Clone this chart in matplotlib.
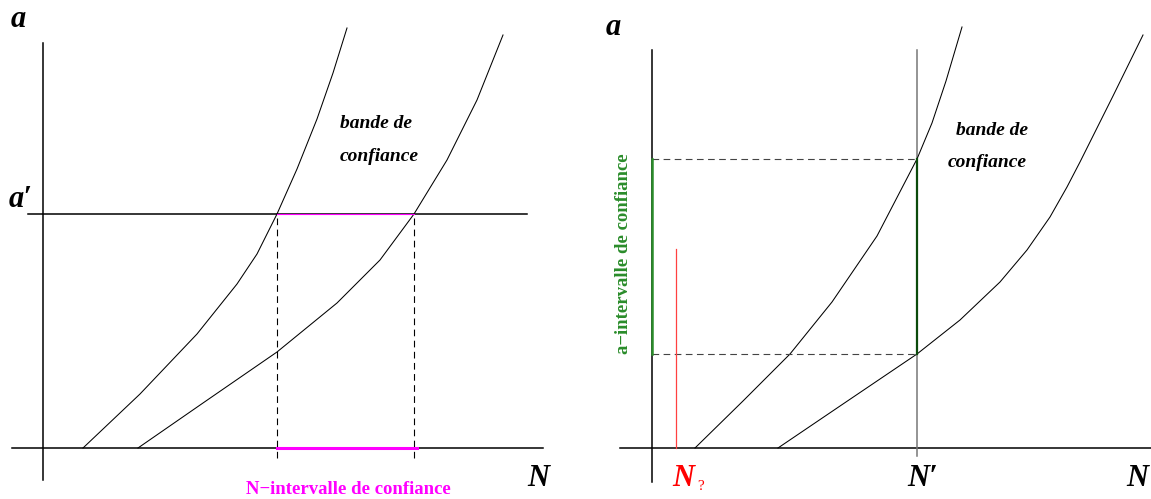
import matplotlib.pyplot as plt

# bande de confiance : deux courbes a(N), coordonnees relatives a l'origine des axes
N_bas_g = [40, 97, 154, 194, 214, 234, 254, 274, 290, 304]
a_bas_g = [0, 54, 114, 164, 194, 234, 279, 329, 375, 420]
N_haut_g = [95, 160, 234, 294, 337, 371, 404, 434, 460]
a_haut_g = [0, 45, 96, 145, 188, 234, 288, 348, 413]

N_bas_d = [43, 91, 138, 180, 225, 265, 280, 294, 310]
a_bas_d = [0, 47, 94, 146, 212, 289, 325, 367, 421]
N_haut_d = [126, 191, 265, 308, 348, 375, 398, 415, 428, 461, 491]
a_haut_d = [0, 44, 94, 128, 166, 198, 231, 261, 286, 352, 413]

a_prime = 234          # a' mesure
N_inter = [234, 371]   # N-intervalle de confiance
N_prime = 265          # N' fixe
a_inter = [94, 289]    # a-intervalle de confiance
N_q = 24               # N ?
a_q = 199

serif = ['Liberation Serif', 'DejaVu Serif']

fig = plt.figure(figsize=(11.51, 4.99), dpi=100)
ax1 = fig.add_axes([0, 0, 575 / 1151, 1])
ax2 = fig.add_axes([575 / 1151, 0, 576 / 1151, 1])
ax1.set_xlim(-43, 532)
ax2.set_xlim(-77, 499)
for ax in (ax1, ax2):
    ax.set_ylim(-51, 448)
    ax.axis('off')

lw_axe = 1.1
lw_c = 0.75
tiret = (6, 4)
grand = dict(family=serif, style='italic', weight='bold', fontsize=22, ha='center', va='center')
bande = dict(family=serif, style='italic', weight='bold', fontsize=14, ha='center', va='center')

# ---- gauche
ax1.plot([0, 0], [-32, 405], color='k', lw=lw_axe)
ax1.plot([-31, 500], [0, 0], color='k', lw=lw_axe)
ax1.plot([-15, 484], [a_prime, a_prime], color='k', lw=lw_axe)
ax1.plot(N_bas_g, a_bas_g, color='k', lw=lw_c)
ax1.plot(N_haut_g, a_haut_g, color='k', lw=lw_c)
for n in N_inter:
    ax1.plot([n, n], [-10, a_prime], color='k', lw=0.8, dashes=tiret)
ax1.plot(N_inter, [a_prime, a_prime], color='magenta', lw=0.8)
ax1.plot([N_inter[0], N_inter[1] + 3], [0, 0], color='magenta', lw=2.2)

ax1.text(-25, 429, 'a', **grand)
ax1.text(-22, 249, 'a′', **grand)
ax1.text(495, -30, 'N', **grand)
ax1.text(333, 325, 'bande de', **bande)
ax1.text(336, 292, 'confiance', **bande)
ax1.text(305, -41, 'N−intervalle de confiance', family=serif, weight='bold', fontsize=13.5,
         color='magenta', ha='center', va='center')

# ---- droite
ax2.plot([0, 0], [-34, 398], color='k', lw=lw_axe)
ax2.plot([-32, 499], [0, 0], color='k', lw=lw_axe)
ax2.plot([N_prime, N_prime], [-8, 398], color='#777777', lw=lw_axe)
ax2.plot(N_bas_d, a_bas_d, color='k', lw=lw_c)
ax2.plot(N_haut_d, a_haut_d, color='k', lw=lw_c)
for a in a_inter:
    ax2.plot([0, N_prime], [a, a], color='#444444', lw=0.8, dashes=tiret)
ax2.plot([0, 0], a_inter, color='#2a8c2a', lw=1.8)
ax2.plot([N_prime, N_prime], a_inter, color='#0b4a0b', lw=1.6)
ax2.plot([N_q, N_q], [0, a_q], color='#ff4040', lw=0.9)

ax2.text(-39, 421, 'a', **grand)
ax2.text(271, -30, 'N′', **grand)
ax2.text(485, -30, 'N', **grand)
ax2.text(31, -30, 'N', color='red', **grand)
ax2.text(49, -39, '?', family=serif, fontsize=11, color='red', ha='center', va='center')
ax2.text(340, 318, 'bande de', **bande)
ax2.text(335, 286, 'confiance', **bande)
ax2.text(-28, 194, 'a−intervalle de confiance', family=serif, weight='bold', fontsize=13.5,
         color='#2a8c2a', rotation=90, ha='center', va='center')

fig.savefig('out.png', dpi=100)
